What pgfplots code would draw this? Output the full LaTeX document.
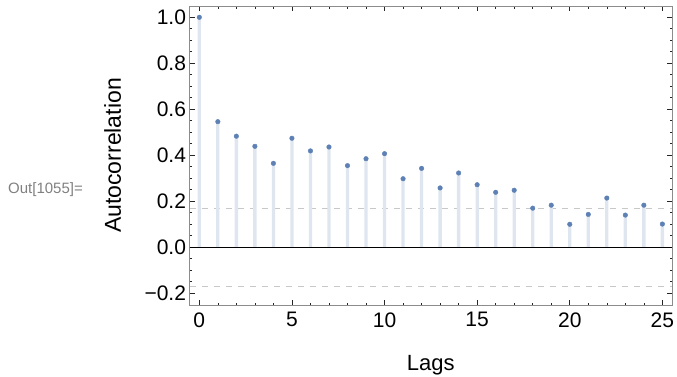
\documentclass[border=0pt]{standalone}
\usepackage{fontspec}
\setmainfont{Liberation Sans}
\usepackage{pgfplots}
\pgfplotsset{compat=1.18}
\definecolor{mblue}{HTML}{5E81B5}
\definecolor{stem}{HTML}{DFE6F0}
\definecolor{dashc}{HTML}{C8C8C8}
\definecolor{framec}{HTML}{8C8C8C}
\definecolor{outc}{HTML}{808080}
\begin{document}
\begin{tikzpicture}[x=1pt,y=1pt]
\useasboundingbox (0,0) rectangle (677,376);
\node[anchor=base west, text=outc, font=\fontsize{15}{17}\selectfont, inner sep=0pt] at (8,183) {Out[1055]=};
\begin{axis}[
  at={(189.5pt,71pt)}, anchor=south west,
  scale only axis, width=482.5pt, height=299pt,
  xmin=-0.53, xmax=25.52, ymin=-0.251, ymax=1.049,
  xtick={0,5,10,15,20,25}, xticklabels={0,5,10,15,20,25},
  ytick={-0.2,0,0.2,0.4,0.6,0.8,1.0},
  yticklabels={−0.2,0.0,0.2,0.4,0.6,0.8,1.0},
  minor x tick num=4, minor y tick num=3,
  tick align=inside,
  major tick length=5pt, minor tick length=2.5pt,
  tick style={black!85, line width=0.6pt},
  axis line style={framec, line width=0.9pt},
  ticklabel style={font=\fontsize{21}{25}\selectfont},
  xticklabel style={yshift=-4pt},
  xlabel={Lags}, ylabel={Autocorrelation},
  xlabel style={font=\fontsize{22}{26}\selectfont, at={(axis description cs:0.5,-0.2174)}, anchor=base},
  ylabel style={font=\fontsize{23}{27}\selectfont, at={(axis description cs:-0.142,0.5)}, anchor=base},
  clip=false,
]
\addplot[dashc, line width=0.8pt, dash pattern=on 6pt off 6pt] coordinates {(-0.53,0.17) (25.52,0.17)};
\addplot[dashc, line width=0.8pt, dash pattern=on 6pt off 6pt] coordinates {(-0.53,-0.17) (25.52,-0.17)};
\addplot[ybar, bar width=3.3pt, fill=stem, draw=none] table {
x y
0 1.000
1 0.546
2 0.483
3 0.439
4 0.365
5 0.474
6 0.419
7 0.436
8 0.355
9 0.385
10 0.407
11 0.298
12 0.343
13 0.258
14 0.323
15 0.272
16 0.239
17 0.248
18 0.170
19 0.183
20 0.100
21 0.143
22 0.214
23 0.140
24 0.183
25 0.101
};
\addplot[black, line width=0.9pt] coordinates {(-0.53,0) (25.52,0)};
\addplot[only marks, mark=*, mark size=2.3pt, mblue, mark options={draw=mblue, fill=mblue}] table {
x y
0 1.000
1 0.546
2 0.483
3 0.439
4 0.365
5 0.474
6 0.419
7 0.436
8 0.355
9 0.385
10 0.407
11 0.298
12 0.343
13 0.258
14 0.323
15 0.272
16 0.239
17 0.248
18 0.170
19 0.183
20 0.100
21 0.143
22 0.214
23 0.140
24 0.183
25 0.101
};
\end{axis}
\end{tikzpicture}
\end{document}
